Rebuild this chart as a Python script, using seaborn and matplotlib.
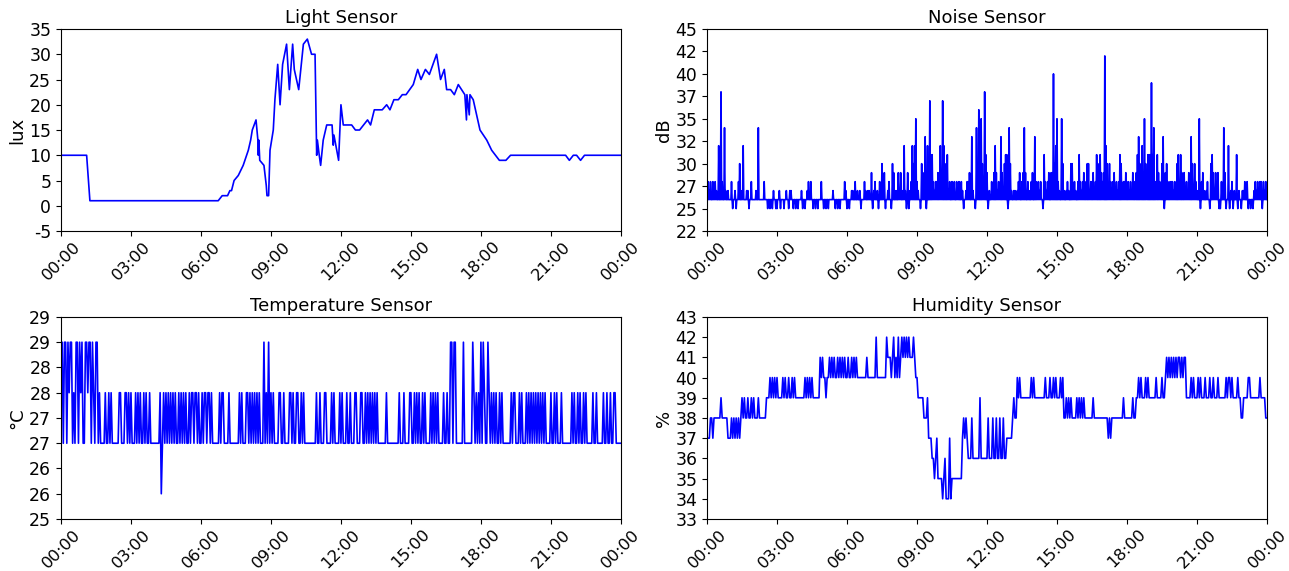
import numpy as np
import pandas as pd
import matplotlib
matplotlib.use("Agg")
import matplotlib.pyplot as plt
import matplotlib.dates as mdates
from matplotlib.ticker import FuncFormatter
import seaborn as sns

day = pd.Timestamp("2023-06-01")

# light sensor readings (hour of day, lux)
light_hours = [0, 1.10, 1.24, 6.74, 6.91, 7.14, 7.24, 7.31, 7.42, 7.60,
               7.81, 8.03, 8.13, 8.20, 8.36, 8.44, 8.46, 8.48, 8.52, 8.70,
               8.80, 8.83, 8.90, 8.96, 9.10, 9.17, 9.29, 9.39, 9.50, 9.67,
               9.79, 9.93, 10.00, 10.19, 10.39, 10.56, 10.74, 10.89, 10.96, 10.99,
               11.07, 11.13, 11.24, 11.39, 11.62, 11.67, 11.70, 11.90, 12.00, 12.10,
               12.46, 12.62, 12.80, 13.14, 13.27, 13.43, 13.77, 13.96, 14.10, 14.27,
               14.46, 14.63, 14.79, 15.10, 15.29, 15.43, 15.62, 15.79, 16.10, 16.27,
               16.43, 16.53, 16.70, 16.86, 17.03, 17.17, 17.31, 17.38, 17.40, 17.50,
               17.53, 17.67, 17.96, 18.25, 18.46, 18.79, 19.07, 19.27, 21.63, 21.79,
               21.96, 22.10, 22.27, 22.44, 24.0]
light_lux = [10, 10, 1, 1, 2, 2, 3, 3, 5, 6,
             8, 11, 13, 15, 17, 13, 10, 13, 9, 8,
             4, 2, 2, 11, 15, 21, 28, 20, 28, 32,
             23, 32, 27, 23, 32, 33, 30, 30, 10, 13,
             10, 8, 13, 16, 16, 12, 14, 9, 20, 16,
             16, 15, 15, 17, 16, 19, 19, 20, 19, 21,
             21, 22, 22, 24, 27, 25, 27, 26, 30, 25,
             27, 23, 23, 22, 24, 23, 22, 17, 22, 18,
             22, 21, 15, 13, 11, 9, 9, 10, 10, 9,
             10, 10, 9, 10, 10]

# 3-minute peak readings, one string per hour, dB = 25 + int(c, 36)
noise_codes = [
    "1323132321" "71d3192121", "1301201351" "2711220131",
    "1121911113" "1101010210", "0120110121" "0221010101",
    "1201012313" "1010101131", "0101011121" "0101011132",
    "0101221312" "1201132122", "1402312031" "5240123105",
    "4121424127" "204023757a", "3210542807" "1c66323343",
    "72c7256231" "3231323132", "0123341821" "092b5a52d6",
    "4021324742" "3284256609", "5212212341" "3494132134",
    "1832323106" "3234144f57", "a321a52123" "2155232136",
    "3234235523" "3423652643", "4h75253234" "2323652334",
    "2323243246" "85374a5266", "6e69326432" "5804532333",
    "2325626424" "2324285253", "21a0342123" "1056424240",
    "0319401702" "3021602102", "2313010102" "3232330323",
    "2",
]
noise_floor = 26  # quiet reading logged between peaks

# 3-minute readings, degC = 20 + int(c)
temp_codes = [
    "8979979899" "7879979897", "7998997987" "9978777787",
    "7878777777" "8877788787", "8777878787" "7878778777",
    "7777786787" "8787878787", "7878787877" "8788788787",
    "7878878878" "7777778788", "7777877777" "7778787778",
    "8787878787" "8777978797", "8787777887" "7877778878",
    "7788778787" "7777777778", "7787778877" "7787877778",
    "7877787787" "7788777887", "7878787878" "7877777778",
    "7777777777" "8777877778", "8778787877" "8787777878",
    "7878777787" "7877997997", "7777797777" "7779878787",
    "9798779878" "7878778787", "7777778788" "7778787778",
    "7878787878" "7878787777", "8778787778" "7777777787",
    "8778787787" "8777778778", "7777787787" "7877887777",
    "7",
]

# 3-minute readings, % = 30 + int(c, 36)
humid_codes = [
    "7778878888" "8898888877", "7878787878" "9898898898",
    "9888988888" "8999a9a9a9", "a9999a9a99" "a99a9a9999",
    "9999a9a9a9" "a999999bab", "aa9aababab" "aababababa",
    "abaabababa" "aaaaaaabaa", "aaaaacaaaa" "aaaacbbbab",
    "cabacabcbc" "bcbcbbbcba", "a999998889" "7776656755",
    "5545644474" "5555555557", "8787666866" "6666966666",
    "6866686686" "6866866777", "778988a9a9" "99999999a9",
    "a999999999" "a999a99a9a", "999a9a8898" "9898888989",
    "8989888888" "8988888888", "8888787888" "8888888988",
    "8888898899" "a9a999a9a9", "99999a9999" "a99abababa",
    "bababbabab" "b9999a9a99", "9a9a999a99" "9a99a999a9",
    "99999a9aa9" "a9999a9988", "9999aa9999" "9999a99998",
    "8",
]


def decode(codes, offset):
    mins, vals = [], []
    for h, s in enumerate(codes):
        for i, c in enumerate(s):
            mins.append(h * 60 + i * 3)
            vals.append(offset + int(c, 36))
    return mins, vals


light_t = [day + pd.Timedelta(hours=h) for h in light_hours]

nm, nv = decode(noise_codes, 25)
noise_t, noise_v = [], []
for m, v in zip(nm, nv):
    noise_t += [day + pd.Timedelta(minutes=m), day + pd.Timedelta(minutes=m + 1.5)]
    noise_v += [v, noise_floor]

tm, tv = decode(temp_codes, 20)
temp_t = [day + pd.Timedelta(minutes=m) for m in tm]
hm, hv = decode(humid_codes, 30)
humid_t = [day + pd.Timedelta(minutes=m) for m in hm]

fig = plt.figure(figsize=(12.89, 5.71), dpi=100)
w, h = 0.4344, 0.3538
pos = [(0.0473, 0.5954), (0.5485, 0.5954), (0.0473, 0.0911), (0.5485, 0.0911)]
axes = [fig.add_axes([x, y, w, h]) for x, y in pos]

panels = [
    (light_t, light_lux, "Light Sensor", "lux", np.linspace(-5, 35, 9)),
    (noise_t, noise_v, "Noise Sensor", "dB", np.linspace(22.5, 45, 10)),
    (temp_t, tv, "Temperature Sensor", "°C", np.linspace(25.5, 29.5, 9)),
    (humid_t, hv, "Humidity Sensor", "%", np.linspace(33, 43, 11)),
]

for ax, (t, v, title, unit, yt) in zip(axes, panels):
    sns.lineplot(x=t, y=v, ax=ax, color="blue", linewidth=1.2, sort=False)
    ax.set_title(title, fontsize=13, pad=4)
    ax.set_ylabel(unit, fontsize=13, labelpad=2)
    ax.set_xlabel("")
    ax.set_ylim(yt[0], yt[-1])
    ax.set_yticks(yt)
    ax.yaxis.set_major_formatter(FuncFormatter(lambda val, _: str(int(val))))
    ax.set_xlim(day, day + pd.Timedelta(days=1))
    ax.xaxis.set_major_locator(mdates.HourLocator(byhour=range(0, 24, 3)))
    ax.xaxis.set_major_formatter(mdates.DateFormatter("%H:%M"))
    ax.tick_params(axis="y", labelsize=12.4)
    ax.tick_params(axis="x", labelsize=11.8, pad=2)
    for lab in ax.get_xticklabels():
        lab.set_rotation(45)

fig.savefig("out.png", dpi=100)
